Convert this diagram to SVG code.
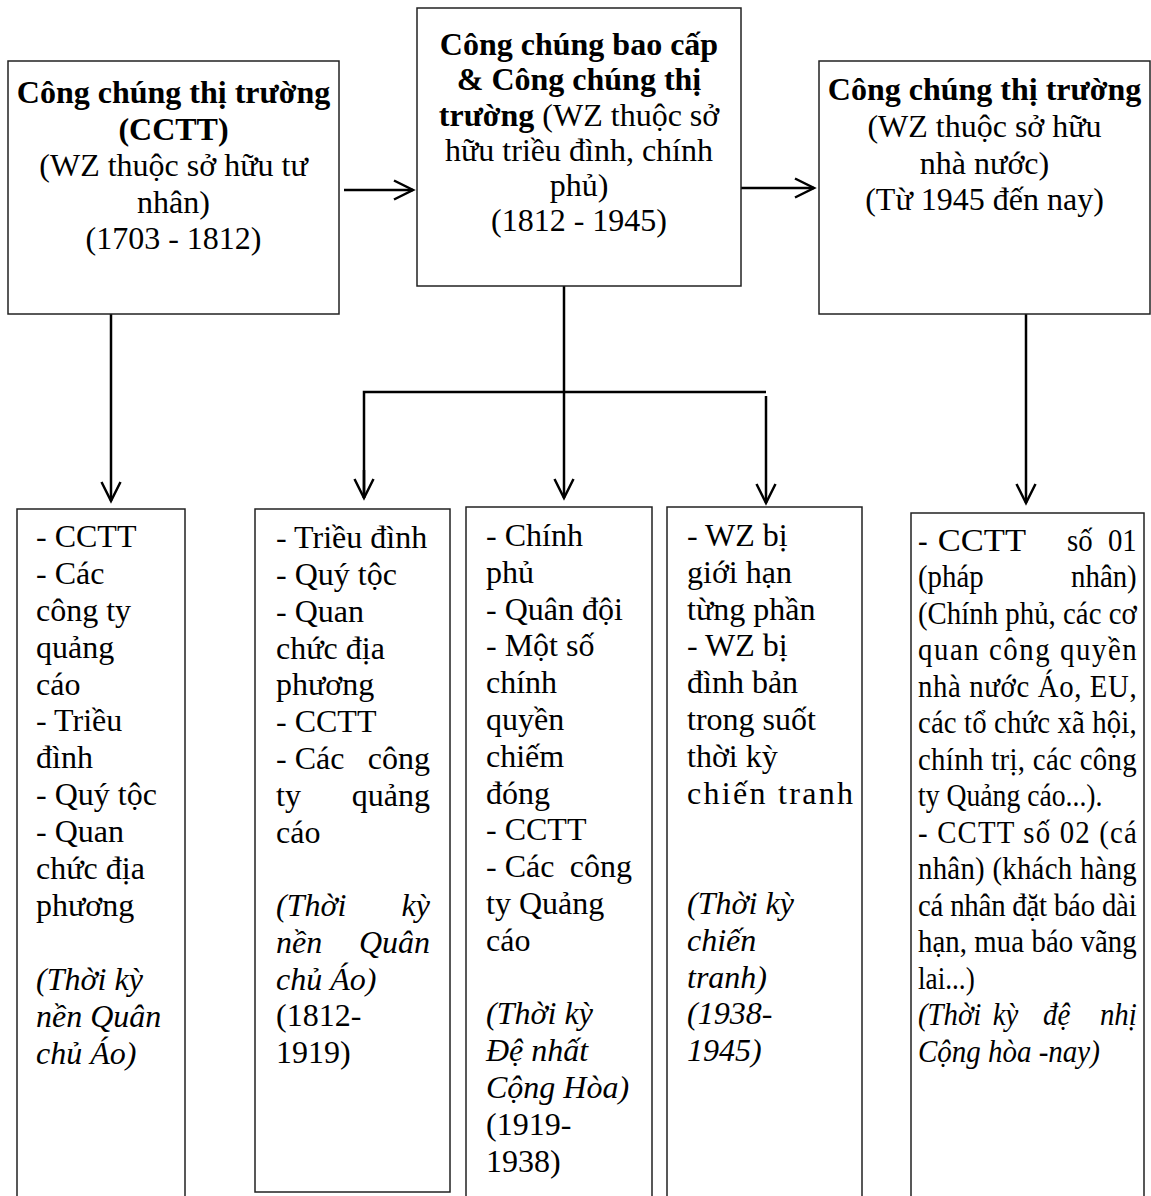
<svg xmlns="http://www.w3.org/2000/svg" width="1151" height="1196" viewBox="0 0 1151 1196">
<style>
.box{fill:#fff;stroke:#222;stroke-width:1.5}
.t{font-family:"Liberation Serif","Times New Roman",serif;font-size:32px;fill:#000}
.c{text-anchor:middle}
.e{text-anchor:end}
.b{font-weight:bold}
.i{font-style:italic}
.con{fill:none;stroke:#000;stroke-width:2.5}
</style>
<defs>
<marker id="arr" viewBox="-22 -12 26 24" refX="0" refY="0" markerWidth="26" markerHeight="24" markerUnits="userSpaceOnUse" orient="auto">
<path d="M-19,-9.5 L0,0 L-19,9.5" fill="none" stroke="#000" stroke-width="2.5"/>
</marker>
</defs>
<rect width="1151" height="1196" fill="#fff"/>

<g id="connectors">
<line class="con" x1="344" y1="190" x2="413" y2="190" marker-end="url(#arr)"/>
<line class="con" x1="741" y1="188" x2="814" y2="188" marker-end="url(#arr)"/>
<line class="con" x1="111" y1="314" x2="111" y2="501" marker-end="url(#arr)"/>
<line class="con" x1="564" y1="286" x2="564" y2="498" marker-end="url(#arr)"/>
<polyline class="con" points="364,498 364,392 766,392"/>
<line class="con" x1="364" y1="470" x2="364" y2="498" marker-end="url(#arr)"/>
<line class="con" x1="766" y1="396" x2="766" y2="503" marker-end="url(#arr)"/>
<line class="con" x1="1026" y1="314" x2="1026" y2="503" marker-end="url(#arr)"/>
</g>

<g id="node-top1">
<rect class="box" x="8" y="61" width="331" height="253"/>
<text class="t c b" x="173.5" y="103">Công chúng thị trường</text>
<text class="t c b" x="173.5" y="139.5">(CCTT)</text>
<text class="t c" x="173.5" y="176">(WZ thuộc sở hữu tư</text>
<text class="t c" x="173.5" y="212.5">nhân)</text>
<text class="t c" x="173.5" y="249">(1703 - 1812)</text>
</g>

<g id="node-top2">
<rect class="box" x="417" y="8" width="324" height="278"/>
<text class="t c b" x="579" y="55">Công chúng bao cấp</text>
<text class="t c b" x="579" y="90">&amp; Công chúng thị</text>
<text class="t c" x="579" y="126"><tspan class="b">trường</tspan> (WZ thuộc sở</text>
<text class="t c" x="579" y="161">hữu triều đình, chính</text>
<text class="t c" x="579" y="196">phủ)</text>
<text class="t c" x="579" y="231">(1812 - 1945)</text>
</g>

<g id="node-top3">
<rect class="box" x="819" y="61" width="331" height="253"/>
<text class="t c b" x="984.5" y="100">Công chúng thị trường</text>
<text class="t c" x="984.5" y="137">(WZ thuộc sở hữu</text>
<text class="t c" x="984.5" y="174">nhà nước)</text>
<text class="t c" x="984.5" y="210">(Từ 1945 đến nay)</text>
</g>

<g id="node-b1">
<path class="box" d="M17,1200 V509 H185 V1200"/>
<text class="t" x="36" y="547">- CCTT</text>
<text class="t" x="36" y="584">- Các</text>
<text class="t" x="36" y="621">công ty</text>
<text class="t" x="36" y="658">quảng</text>
<text class="t" x="36" y="695">cáo</text>
<text class="t" x="36" y="731">- Triều</text>
<text class="t" x="36" y="768">đình</text>
<text class="t" x="36" y="805">- Quý tộc</text>
<text class="t" x="36" y="842">- Quan</text>
<text class="t" x="36" y="879">chức địa</text>
<text class="t" x="36" y="916">phương</text>
<text class="t i" x="36" y="990">(Thời kỳ</text>
<text class="t i" x="36" y="1027">nền Quân</text>
<text class="t i" x="36" y="1064">chủ Áo)</text>
</g>

<g id="node-b2">
<rect class="box" x="255" y="509" width="195" height="683"/>
<text class="t" x="276" y="548">- Triều đình</text>
<text class="t" x="276" y="585">- Quý tộc</text>
<text class="t" x="276" y="622">- Quan</text>
<text class="t" x="276" y="659">chức địa</text>
<text class="t" x="276" y="695">phương</text>
<text class="t" x="276" y="732">- CCTT</text>
<text class="t" x="276" y="769">- Các</text>
<text class="t e" x="430" y="769">công</text>
<text class="t" x="276" y="806">ty</text>
<text class="t e" x="430" y="806">quảng</text>
<text class="t" x="276" y="843">cáo</text>
<text class="t i" x="276" y="916">(Thời</text>
<text class="t i e" x="430" y="916">kỳ</text>
<text class="t i" x="276" y="953">nền</text>
<text class="t i e" x="430" y="953">Quân</text>
<text class="t i" x="276" y="990">chủ Áo)</text>
<text class="t" x="276" y="1026">(1812-</text>
<text class="t" x="276" y="1063">1919)</text>
</g>

<g id="node-b3">
<path class="box" d="M466,1200 V507 H652 V1200"/>
<text class="t" x="486" y="546">- Chính</text>
<text class="t" x="486" y="583">phủ</text>
<text class="t" x="486" y="620">- Quân đội</text>
<text class="t" x="486" y="656">- Một số</text>
<text class="t" x="486" y="693">chính</text>
<text class="t" x="486" y="730">quyền</text>
<text class="t" x="486" y="767">chiếm</text>
<text class="t" x="486" y="804">đóng</text>
<text class="t" x="486" y="840">- CCTT</text>
<text class="t" x="486" y="877">- Các</text>
<text class="t e" x="632" y="877">công</text>
<text class="t" x="486" y="914">ty Quảng</text>
<text class="t" x="486" y="951">cáo</text>
<text class="t i" x="486" y="1024">(Thời kỳ</text>
<text class="t i" x="486" y="1061">Đệ nhất</text>
<text class="t i" x="486" y="1098">Cộng Hòa)</text>
<text class="t" x="486" y="1135">(1919-</text>
<text class="t" x="486" y="1172">1938)</text>
</g>

<g id="node-b4">
<path class="box" d="M667,1200 V507 H862 V1200"/>
<text class="t" x="687" y="546">- WZ bị</text>
<text class="t" x="687" y="583">giới hạn</text>
<text class="t" x="687" y="620">từng phần</text>
<text class="t" x="687" y="656">- WZ bị</text>
<text class="t" x="687" y="693">đình bản</text>
<text class="t" x="687" y="730">trong suốt</text>
<text class="t" x="687" y="767">thời kỳ</text>
<text class="t" x="687" y="804" textLength="166" lengthAdjust="spacing">chiến tranh</text>
<text class="t i" x="687" y="914">(Thời kỳ</text>
<text class="t i" x="687" y="951">chiến</text>
<text class="t i" x="687" y="988">tranh)</text>
<text class="t i" x="687" y="1024">(1938-</text>
<text class="t i" x="687" y="1061">1945)</text>
</g>

<g id="node-b5">
<path class="box" d="M911,1200 V513 H1144 V1200"/>
<g transform="translate(918 0) scale(0.9 1)">
<text class="t" x="0" y="551">-</text>
<text class="t" x="22" y="551" textLength="98" lengthAdjust="spacingAndGlyphs">CCTT</text>
<text class="t" x="165.5" y="551">số</text>
<text class="t e" x="243" y="551">01</text>
<text class="t" x="0" y="587.5">(pháp</text>
<text class="t e" x="243" y="587.5">nhân)</text>
<text class="t" x="0" y="624" textLength="243" lengthAdjust="spacing">(Chính phủ, các cơ</text>
<text class="t" x="0" y="660.5" textLength="243" lengthAdjust="spacing">quan công quyền</text>
<text class="t" x="0" y="697" textLength="243" lengthAdjust="spacing">nhà nước Áo, EU,</text>
<text class="t" x="0" y="733.5" textLength="243" lengthAdjust="spacing">các tổ chức xã hội,</text>
<text class="t" x="0" y="770" textLength="243" lengthAdjust="spacing">chính trị, các công</text>
<text class="t" x="0" y="806.5" textLength="205" lengthAdjust="spacingAndGlyphs">ty Quảng cáo...).</text>
<text class="t" x="0" y="843" textLength="243" lengthAdjust="spacing">- CCTT số 02 (cá</text>
<text class="t" x="0" y="879.5" textLength="243" lengthAdjust="spacing">nhân) (khách hàng</text>
<text class="t" x="0" y="916" textLength="243" lengthAdjust="spacing">cá nhân đặt báo dài</text>
<text class="t" x="0" y="952.5" textLength="243" lengthAdjust="spacing">hạn, mua báo vãng</text>
<text class="t" x="0" y="989" textLength="63" lengthAdjust="spacingAndGlyphs">lai...)</text>
<text class="t i" x="0" y="1025.5">(Thời</text>
<text class="t i" x="83" y="1025.5">kỳ</text>
<text class="t i" x="139" y="1025.5">đệ</text>
<text class="t i e" x="243" y="1025.5">nhị</text>
<text class="t i" x="0" y="1062" textLength="202" lengthAdjust="spacingAndGlyphs">Cộng hòa -nay)</text>
</g>
</g>
</svg>
